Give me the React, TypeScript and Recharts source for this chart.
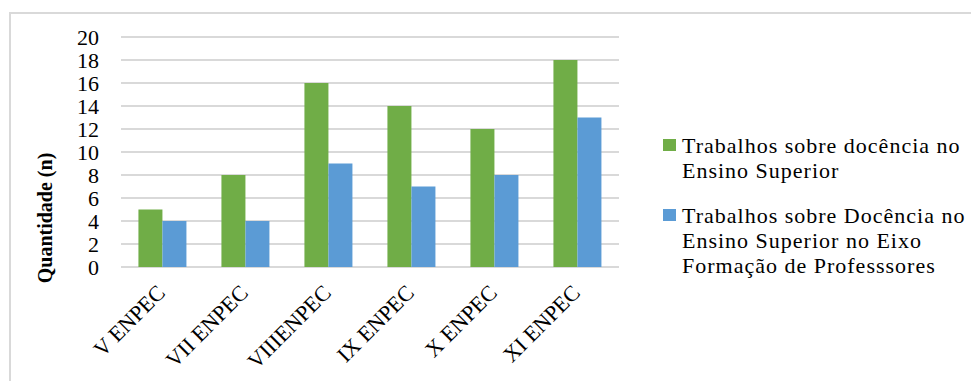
import React from "react";
import { BarChart, Bar, XAxis, YAxis, CartesianGrid, Legend } from "recharts";

const categories = ["V ENPEC", "VII ENPEC", "VIIIENPEC", "IX ENPEC", "X ENPEC", "XI ENPEC"];
const docenciaES = [5, 8, 16, 14, 12, 18];
const docenciaEixoFP = [4, 4, 9, 7, 8, 13];
const yTicks = [0, 2, 4, 6, 8, 10, 12, 14, 16, 18, 20];
const series1Lines = ["Trabalhos sobre docência no", "Ensino Superior"];
const series2Lines = ["Trabalhos sobre Docência no", "Ensino Superior no Eixo", "Formação de Professsores"];
const yLabel = "Quantidade (n)";

const GREEN = "#70AD47";
const BLUE = "#5B9BD5";
const GRID = "#D9D9D9";
const FONT = "Liberation Serif";

const data = categories.map((c, i) => ({
  name: c,
  s1: docenciaES[i],
  s2: docenciaEixoFP[i],
}));

const XTick = (props: any) => {
  const { x, y, payload } = props;
  return (
    <g transform={`translate(${x + 4},${y + 19})`}>
      <text
        transform="rotate(-45)"
        textAnchor="end"
        x={0}
        y={0}
        style={{ fontFamily: FONT }}
        fontSize={22}
        fill="#000"
      >
        {payload.value}
      </text>
    </g>
  );
};

const LegendContent = () => {
  const entries = [
    { color: GREEN, lines: series1Lines },
    { color: BLUE, lines: series2Lines },
  ];
  return (
    <div style={{ fontFamily: FONT, fontSize: 22, lineHeight: "25px", letterSpacing: "1px", color: "#000" }}>
      {entries.map((e, i) => (
        <div key={i} style={{ position: "relative", paddingLeft: 19, marginBottom: 20 }}>
          <div
            style={{
              position: "absolute",
              left: 0,
              top: 6,
              width: 13,
              height: 12,
              background: e.color,
            }}
          />
          {e.lines.map((l, j) => (
            <div key={j} style={{ whiteSpace: "nowrap" }}>{l}</div>
          ))}
        </div>
      ))}
    </div>
  );
};

const YLabel = () => (
  <text
    x={45}
    y={218}
    transform="rotate(-90, 45, 218)"
    textAnchor="middle"
    dominantBaseline="central"
    style={{ fontFamily: FONT }}
    fontSize={20}
    fontWeight="bold"
    fill="#000"
  >
    {yLabel}
  </text>
);

export default function App() {
  return (
    <div style={{ position: "absolute", left: 0, top: 0, width: 971, height: 381, background: "#fff", overflow: "hidden", fontFamily: FONT }}>
      <div
        style={{
          position: "absolute",
          left: 9,
          top: 12,
          width: 971,
          height: 400,
          borderTop: `2px solid ${GRID}`,
          borderLeft: `2px solid ${GRID}`,
        }}
      />
      <div style={{ position: "absolute", left: 0, top: 0 }}>
        <BarChart
          width={971}
          height={381}
          data={data}
          margin={{ top: 37, right: 352, bottom: 54, left: 21 }}
          barCategoryGap="21%"
          barGap={0}
          style={{ fontFamily: FONT }}
        >
          <CartesianGrid vertical={false} stroke={GRID} strokeWidth={2} />
          <XAxis
            dataKey="name"
            height={60}
            axisLine={false}
            tickLine={false}
            interval={0}
            tick={<XTick />}
          />
          <YAxis
            width={100}
            domain={[0, 20]}
            ticks={yTicks}
            interval={0}
            axisLine={false}
            tickLine={false}
            tickSize={6}
            tickMargin={16}
            tick={{ fontFamily: FONT, fontSize: 22, fill: "#000", style: { fontFamily: FONT } }}
            label={<YLabel />}
          />
          <Legend
            layout="vertical"
            align="center"
            verticalAlign="middle"
            content={<LegendContent />}
            wrapperStyle={{ left: 663, top: 133, width: 305, height: 200 }}
          />
          <Bar dataKey="s1" fill={GREEN} isAnimationActive={false} />
          <Bar dataKey="s2" fill={BLUE} isAnimationActive={false} />
        </BarChart>
      </div>
    </div>
  );
}
